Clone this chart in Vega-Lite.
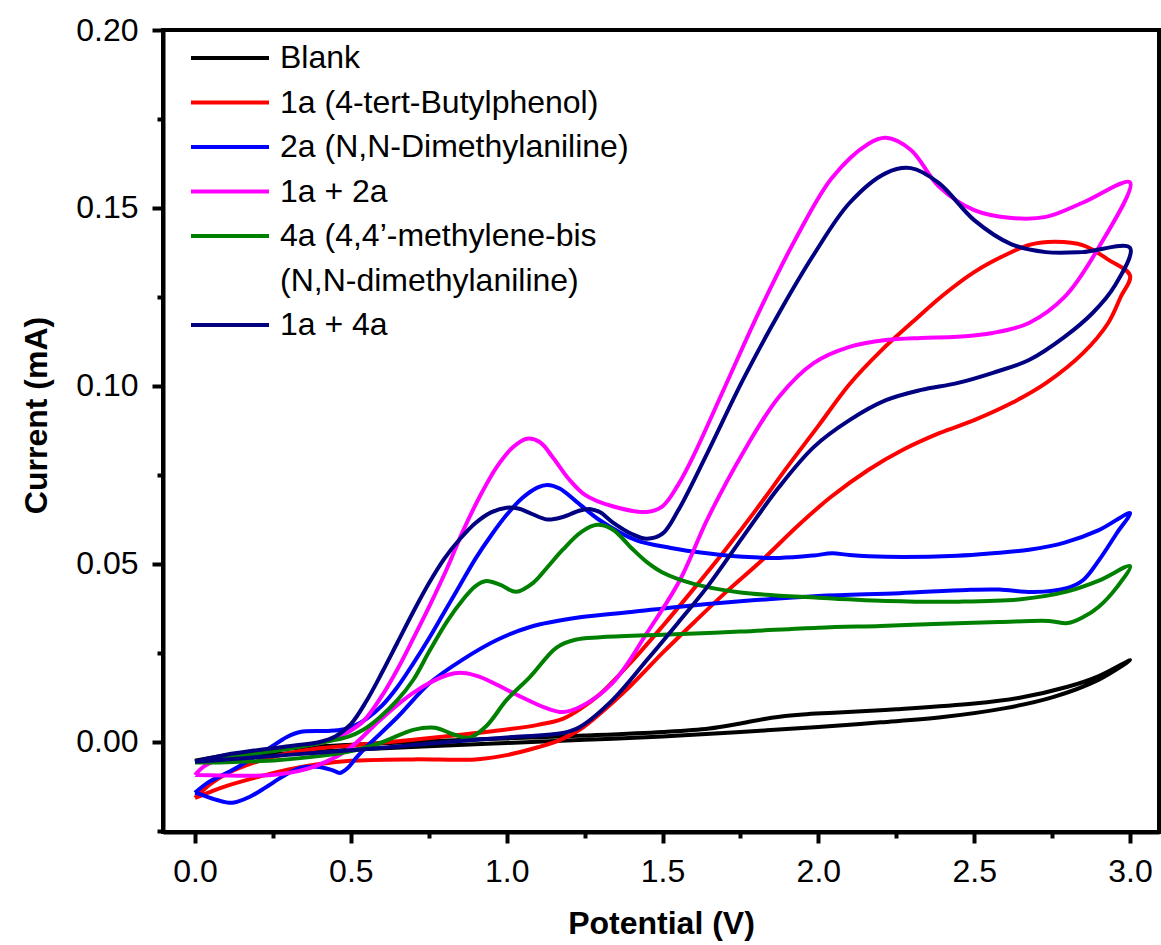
{
  "$schema": "https://vega.github.io/schema/vega-lite/v6.json",
  "width": 996,
  "height": 802,
  "autosize": {"type": "none"},
  "padding": {"left": 163, "top": 30, "right": 2, "bottom": 113},
  "config": {
    "font": "Liberation Sans",
    "view": {"stroke": "black", "strokeWidth": 4}
  },
  "datasets": {
    "cv": [
      {"s":"Blank","o":1,"v":0,"i":-0.0053},{"s":"Blank","o":2,"v":0.1,"i":-0.0037},{"s":"Blank","o":3,"v":0.25,"i":-0.0022},{"s":"Blank","o":4,"v":0.5,"i":-0.0008},{"s":"Blank","o":5,"v":0.75,"i":0.0002},{"s":"Blank","o":6,"v":1.0,"i":0.001},{"s":"Blank","o":7,"v":1.25,"i":0.0018},{"s":"Blank","o":8,"v":1.5,"i":0.0028},{"s":"Blank","o":9,"v":1.65,"i":0.0038},{"s":"Blank","o":10,"v":1.75,"i":0.0052},{"s":"Blank","o":11,"v":1.85,"i":0.0068},{"s":"Blank","o":12,"v":1.95,"i":0.0077},{"s":"Blank","o":13,"v":2.05,"i":0.0082},{"s":"Blank","o":14,"v":2.25,"i":0.0092},{"s":"Blank","o":15,"v":2.5,"i":0.0108},{"s":"Blank","o":16,"v":2.65,"i":0.0125},{"s":"Blank","o":17,"v":2.8,"i":0.0155},{"s":"Blank","o":18,"v":2.9,"i":0.0185},{"s":"Blank","o":19,"v":3.0,"i":0.023},{"s":"Blank","o":20,"v":2.9,"i":0.0175},{"s":"Blank","o":21,"v":2.75,"i":0.0125},{"s":"Blank","o":22,"v":2.6,"i":0.0095},{"s":"Blank","o":23,"v":2.4,"i":0.007},{"s":"Blank","o":24,"v":2.2,"i":0.0055},{"s":"Blank","o":25,"v":2.0,"i":0.0042},{"s":"Blank","o":26,"v":1.75,"i":0.0028},{"s":"Blank","o":27,"v":1.5,"i":0.0015},{"s":"Blank","o":28,"v":1.25,"i":0.0006},{"s":"Blank","o":29,"v":1.0,"i":-0.0003},{"s":"Blank","o":30,"v":0.75,"i":-0.0012},{"s":"Blank","o":31,"v":0.5,"i":-0.0022},{"s":"Blank","o":32,"v":0.25,"i":-0.0035},{"s":"Blank","o":33,"v":0.1,"i":-0.0046},{"s":"Blank","o":34,"v":0,"i":-0.0056},

      {"s":"1a (4-tert-Butylphenol)","o":1,"v":0,"i":-0.0157},{"s":"1a (4-tert-Butylphenol)","o":2,"v":0.05,"i":-0.0118},{"s":"1a (4-tert-Butylphenol)","o":3,"v":0.1,"i":-0.009},{"s":"1a (4-tert-Butylphenol)","o":4,"v":0.2,"i":-0.0055},{"s":"1a (4-tert-Butylphenol)","o":5,"v":0.3,"i":-0.0032},{"s":"1a (4-tert-Butylphenol)","o":6,"v":0.4,"i":-0.0018},{"s":"1a (4-tert-Butylphenol)","o":7,"v":0.5,"i":-0.001},{"s":"1a (4-tert-Butylphenol)","o":8,"v":0.6,"i":-0.0002},{"s":"1a (4-tert-Butylphenol)","o":9,"v":0.7,"i":0.0006},{"s":"1a (4-tert-Butylphenol)","o":10,"v":0.8,"i":0.0015},{"s":"1a (4-tert-Butylphenol)","o":11,"v":0.9,"i":0.0025},{"s":"1a (4-tert-Butylphenol)","o":12,"v":1.0,"i":0.0035},{"s":"1a (4-tert-Butylphenol)","o":13,"v":1.1,"i":0.0048},{"s":"1a (4-tert-Butylphenol)","o":14,"v":1.18,"i":0.0065},{"s":"1a (4-tert-Butylphenol)","o":15,"v":1.24,"i":0.0095},{"s":"1a (4-tert-Butylphenol)","o":16,"v":1.3,"i":0.0135},{"s":"1a (4-tert-Butylphenol)","o":17,"v":1.4,"i":0.0225},{"s":"1a (4-tert-Butylphenol)","o":18,"v":1.5,"i":0.0325},{"s":"1a (4-tert-Butylphenol)","o":19,"v":1.6,"i":0.043},{"s":"1a (4-tert-Butylphenol)","o":20,"v":1.7,"i":0.0538},{"s":"1a (4-tert-Butylphenol)","o":21,"v":1.8,"i":0.0652},{"s":"1a (4-tert-Butylphenol)","o":22,"v":1.9,"i":0.0772},{"s":"1a (4-tert-Butylphenol)","o":23,"v":2.0,"i":0.0888},{"s":"1a (4-tert-Butylphenol)","o":24,"v":2.1,"i":0.1005},{"s":"1a (4-tert-Butylphenol)","o":25,"v":2.2,"i":0.1098},{"s":"1a (4-tert-Butylphenol)","o":26,"v":2.3,"i":0.1178},{"s":"1a (4-tert-Butylphenol)","o":27,"v":2.4,"i":0.1255},{"s":"1a (4-tert-Butylphenol)","o":28,"v":2.5,"i":0.132},{"s":"1a (4-tert-Butylphenol)","o":29,"v":2.6,"i":0.1368},{"s":"1a (4-tert-Butylphenol)","o":30,"v":2.68,"i":0.1397},{"s":"1a (4-tert-Butylphenol)","o":31,"v":2.76,"i":0.1405},{"s":"1a (4-tert-Butylphenol)","o":32,"v":2.85,"i":0.1395},{"s":"1a (4-tert-Butylphenol)","o":33,"v":2.93,"i":0.1355},{"s":"1a (4-tert-Butylphenol)","o":34,"v":3.0,"i":0.131},{"s":"1a (4-tert-Butylphenol)","o":35,"v":2.97,"i":0.125},{"s":"1a (4-tert-Butylphenol)","o":36,"v":2.93,"i":0.1177},{"s":"1a (4-tert-Butylphenol)","o":37,"v":2.85,"i":0.1093},{"s":"1a (4-tert-Butylphenol)","o":38,"v":2.73,"i":0.1008},{"s":"1a (4-tert-Butylphenol)","o":39,"v":2.62,"i":0.0952},{"s":"1a (4-tert-Butylphenol)","o":40,"v":2.5,"i":0.0904},{"s":"1a (4-tert-Butylphenol)","o":41,"v":2.39,"i":0.0868},{"s":"1a (4-tert-Butylphenol)","o":42,"v":2.27,"i":0.082},{"s":"1a (4-tert-Butylphenol)","o":43,"v":2.16,"i":0.0764},{"s":"1a (4-tert-Butylphenol)","o":44,"v":2.04,"i":0.0688},{"s":"1a (4-tert-Butylphenol)","o":45,"v":1.93,"i":0.0604},{"s":"1a (4-tert-Butylphenol)","o":46,"v":1.82,"i":0.0511},{"s":"1a (4-tert-Butylphenol)","o":47,"v":1.7,"i":0.0418},{"s":"1a (4-tert-Butylphenol)","o":48,"v":1.6,"i":0.0335},{"s":"1a (4-tert-Butylphenol)","o":49,"v":1.5,"i":0.025},{"s":"1a (4-tert-Butylphenol)","o":50,"v":1.4,"i":0.016},{"s":"1a (4-tert-Butylphenol)","o":51,"v":1.3,"i":0.008},{"s":"1a (4-tert-Butylphenol)","o":52,"v":1.235,"i":0.0035},{"s":"1a (4-tert-Butylphenol)","o":53,"v":1.17,"i":0.0005},{"s":"1a (4-tert-Butylphenol)","o":54,"v":1.1,"i":-0.0015},{"s":"1a (4-tert-Butylphenol)","o":55,"v":1.0,"i":-0.0037},{"s":"1a (4-tert-Butylphenol)","o":56,"v":0.9,"i":-0.0049},{"s":"1a (4-tert-Butylphenol)","o":57,"v":0.7,"i":-0.0049},{"s":"1a (4-tert-Butylphenol)","o":58,"v":0.5,"i":-0.0053},{"s":"1a (4-tert-Butylphenol)","o":59,"v":0.4,"i":-0.0062},{"s":"1a (4-tert-Butylphenol)","o":60,"v":0.3,"i":-0.0077},{"s":"1a (4-tert-Butylphenol)","o":61,"v":0.2,"i":-0.0099},{"s":"1a (4-tert-Butylphenol)","o":62,"v":0.1,"i":-0.0124},{"s":"1a (4-tert-Butylphenol)","o":63,"v":0.05,"i":-0.014},{"s":"1a (4-tert-Butylphenol)","o":64,"v":0,"i":-0.0157},

      {"s":"2a (N,N-Dimethylaniline)","o":1,"v":0,"i":-0.0143},{"s":"2a (N,N-Dimethylaniline)","o":2,"v":0.04,"i":-0.0115},{"s":"2a (N,N-Dimethylaniline)","o":3,"v":0.12,"i":-0.0079},{"s":"2a (N,N-Dimethylaniline)","o":4,"v":0.23,"i":-0.0022},{"s":"2a (N,N-Dimethylaniline)","o":5,"v":0.295,"i":0.0014},{"s":"2a (N,N-Dimethylaniline)","o":6,"v":0.337,"i":0.0028},{"s":"2a (N,N-Dimethylaniline)","o":7,"v":0.42,"i":0.0031},{"s":"2a (N,N-Dimethylaniline)","o":8,"v":0.475,"i":0.0035},{"s":"2a (N,N-Dimethylaniline)","o":9,"v":0.51,"i":0.0045},{"s":"2a (N,N-Dimethylaniline)","o":10,"v":0.55,"i":0.0065},{"s":"2a (N,N-Dimethylaniline)","o":11,"v":0.6,"i":0.0102},{"s":"2a (N,N-Dimethylaniline)","o":12,"v":0.65,"i":0.0155},{"s":"2a (N,N-Dimethylaniline)","o":13,"v":0.7,"i":0.022},{"s":"2a (N,N-Dimethylaniline)","o":14,"v":0.75,"i":0.029},{"s":"2a (N,N-Dimethylaniline)","o":15,"v":0.8,"i":0.0365},{"s":"2a (N,N-Dimethylaniline)","o":16,"v":0.85,"i":0.044},{"s":"2a (N,N-Dimethylaniline)","o":17,"v":0.9,"i":0.0515},{"s":"2a (N,N-Dimethylaniline)","o":18,"v":0.95,"i":0.058},{"s":"2a (N,N-Dimethylaniline)","o":19,"v":1.0,"i":0.0638},{"s":"2a (N,N-Dimethylaniline)","o":20,"v":1.05,"i":0.0685},{"s":"2a (N,N-Dimethylaniline)","o":21,"v":1.1,"i":0.0715},{"s":"2a (N,N-Dimethylaniline)","o":22,"v":1.13,"i":0.0722},{"s":"2a (N,N-Dimethylaniline)","o":23,"v":1.17,"i":0.0712},{"s":"2a (N,N-Dimethylaniline)","o":24,"v":1.22,"i":0.0678},{"s":"2a (N,N-Dimethylaniline)","o":25,"v":1.3,"i":0.0622},{"s":"2a (N,N-Dimethylaniline)","o":26,"v":1.415,"i":0.0567},{"s":"2a (N,N-Dimethylaniline)","o":27,"v":1.527,"i":0.0545},{"s":"2a (N,N-Dimethylaniline)","o":28,"v":1.643,"i":0.053},{"s":"2a (N,N-Dimethylaniline)","o":29,"v":1.758,"i":0.052},{"s":"2a (N,N-Dimethylaniline)","o":30,"v":1.874,"i":0.0517},{"s":"2a (N,N-Dimethylaniline)","o":31,"v":1.986,"i":0.0524},{"s":"2a (N,N-Dimethylaniline)","o":32,"v":2.044,"i":0.053},{"s":"2a (N,N-Dimethylaniline)","o":33,"v":2.1,"i":0.0525},{"s":"2a (N,N-Dimethylaniline)","o":34,"v":2.217,"i":0.052},{"s":"2a (N,N-Dimethylaniline)","o":35,"v":2.445,"i":0.0523},{"s":"2a (N,N-Dimethylaniline)","o":36,"v":2.56,"i":0.053},{"s":"2a (N,N-Dimethylaniline)","o":37,"v":2.676,"i":0.054},{"s":"2a (N,N-Dimethylaniline)","o":38,"v":2.79,"i":0.056},{"s":"2a (N,N-Dimethylaniline)","o":39,"v":2.9,"i":0.0595},{"s":"2a (N,N-Dimethylaniline)","o":40,"v":3.0,"i":0.0643},{"s":"2a (N,N-Dimethylaniline)","o":41,"v":2.958,"i":0.0587},{"s":"2a (N,N-Dimethylaniline)","o":42,"v":2.9,"i":0.051},{"s":"2a (N,N-Dimethylaniline)","o":43,"v":2.85,"i":0.0455},{"s":"2a (N,N-Dimethylaniline)","o":44,"v":2.8,"i":0.0433},{"s":"2a (N,N-Dimethylaniline)","o":45,"v":2.69,"i":0.0421},{"s":"2a (N,N-Dimethylaniline)","o":46,"v":2.58,"i":0.0428},{"s":"2a (N,N-Dimethylaniline)","o":47,"v":2.477,"i":0.0427},{"s":"2a (N,N-Dimethylaniline)","o":48,"v":2.26,"i":0.0418},{"s":"2a (N,N-Dimethylaniline)","o":49,"v":2.0,"i":0.041},{"s":"2a (N,N-Dimethylaniline)","o":50,"v":1.75,"i":0.0395},{"s":"2a (N,N-Dimethylaniline)","o":51,"v":1.556,"i":0.038},{"s":"2a (N,N-Dimethylaniline)","o":52,"v":1.4,"i":0.0365},{"s":"2a (N,N-Dimethylaniline)","o":53,"v":1.235,"i":0.035},{"s":"2a (N,N-Dimethylaniline)","o":54,"v":1.075,"i":0.0323},{"s":"2a (N,N-Dimethylaniline)","o":55,"v":0.97,"i":0.0287},{"s":"2a (N,N-Dimethylaniline)","o":56,"v":0.86,"i":0.0232},{"s":"2a (N,N-Dimethylaniline)","o":57,"v":0.754,"i":0.0166},{"s":"2a (N,N-Dimethylaniline)","o":58,"v":0.65,"i":0.007},{"s":"2a (N,N-Dimethylaniline)","o":59,"v":0.55,"i":-0.0014},{"s":"2a (N,N-Dimethylaniline)","o":60,"v":0.52,"i":-0.0042},{"s":"2a (N,N-Dimethylaniline)","o":61,"v":0.49,"i":-0.0073},{"s":"2a (N,N-Dimethylaniline)","o":62,"v":0.465,"i":-0.0087},{"s":"2a (N,N-Dimethylaniline)","o":63,"v":0.44,"i":-0.0079},{"s":"2a (N,N-Dimethylaniline)","o":64,"v":0.39,"i":-0.007},{"s":"2a (N,N-Dimethylaniline)","o":65,"v":0.337,"i":-0.0073},{"s":"2a (N,N-Dimethylaniline)","o":66,"v":0.28,"i":-0.0098},{"s":"2a (N,N-Dimethylaniline)","o":67,"v":0.23,"i":-0.0126},{"s":"2a (N,N-Dimethylaniline)","o":68,"v":0.176,"i":-0.0154},{"s":"2a (N,N-Dimethylaniline)","o":69,"v":0.12,"i":-0.0171},{"s":"2a (N,N-Dimethylaniline)","o":70,"v":0.07,"i":-0.0163},{"s":"2a (N,N-Dimethylaniline)","o":71,"v":0.01,"i":-0.0145},{"s":"2a (N,N-Dimethylaniline)","o":72,"v":0,"i":-0.0143},

      {"s":"1a + 2a","o":1,"v":0,"i":-0.0093},{"s":"1a + 2a","o":2,"v":0.03,"i":-0.0068},{"s":"1a + 2a","o":3,"v":0.1,"i":-0.0042},{"s":"1a + 2a","o":4,"v":0.2,"i":-0.0027},{"s":"1a + 2a","o":5,"v":0.3,"i":-0.0016},{"s":"1a + 2a","o":6,"v":0.4,"i":-0.0003},{"s":"1a + 2a","o":7,"v":0.45,"i":0.001},{"s":"1a + 2a","o":8,"v":0.49,"i":0.0027},{"s":"1a + 2a","o":9,"v":0.54,"i":0.0058},{"s":"1a + 2a","o":10,"v":0.6,"i":0.013},{"s":"1a + 2a","o":11,"v":0.65,"i":0.0205},{"s":"1a + 2a","o":12,"v":0.7,"i":0.029},{"s":"1a + 2a","o":13,"v":0.754,"i":0.0385},{"s":"1a + 2a","o":14,"v":0.81,"i":0.049},{"s":"1a + 2a","o":15,"v":0.86,"i":0.0593},{"s":"1a + 2a","o":16,"v":0.92,"i":0.07},{"s":"1a + 2a","o":17,"v":0.97,"i":0.0775},{"s":"1a + 2a","o":18,"v":1.02,"i":0.0828},{"s":"1a + 2a","o":19,"v":1.065,"i":0.0852},{"s":"1a + 2a","o":20,"v":1.107,"i":0.0842},{"s":"1a + 2a","o":21,"v":1.15,"i":0.0797},{"s":"1a + 2a","o":22,"v":1.2,"i":0.0738},{"s":"1a + 2a","o":23,"v":1.25,"i":0.0695},{"s":"1a + 2a","o":24,"v":1.34,"i":0.0662},{"s":"1a + 2a","o":25,"v":1.45,"i":0.0646},{"s":"1a + 2a","o":26,"v":1.5,"i":0.0662},{"s":"1a + 2a","o":27,"v":1.55,"i":0.0722},{"s":"1a + 2a","o":28,"v":1.6,"i":0.0805},{"s":"1a + 2a","o":29,"v":1.7,"i":0.0997},{"s":"1a + 2a","o":30,"v":1.816,"i":0.122},{"s":"1a + 2a","o":31,"v":1.93,"i":0.1418},{"s":"1a + 2a","o":32,"v":2.044,"i":0.1585},{"s":"1a + 2a","o":33,"v":2.16,"i":0.168},{"s":"1a + 2a","o":34,"v":2.217,"i":0.1697},{"s":"1a + 2a","o":35,"v":2.297,"i":0.1663},{"s":"1a + 2a","o":36,"v":2.387,"i":0.156},{"s":"1a + 2a","o":37,"v":2.5,"i":0.1494},{"s":"1a + 2a","o":38,"v":2.62,"i":0.1472},{"s":"1a + 2a","o":39,"v":2.73,"i":0.1475},{"s":"1a + 2a","o":40,"v":2.846,"i":0.1514},{"s":"1a + 2a","o":41,"v":3.0,"i":0.1572},{"s":"1a + 2a","o":42,"v":2.9,"i":0.139},{"s":"1a + 2a","o":43,"v":2.79,"i":0.125},{"s":"1a + 2a","o":44,"v":2.676,"i":0.1177},{"s":"1a + 2a","o":45,"v":2.56,"i":0.1149},{"s":"1a + 2a","o":46,"v":2.445,"i":0.1138},{"s":"1a + 2a","o":47,"v":2.33,"i":0.1135},{"s":"1a + 2a","o":48,"v":2.217,"i":0.1129},{"s":"1a + 2a","o":49,"v":2.1,"i":0.111},{"s":"1a + 2a","o":50,"v":1.986,"i":0.1065},{"s":"1a + 2a","o":51,"v":1.874,"i":0.097},{"s":"1a + 2a","o":52,"v":1.758,"i":0.0812},{"s":"1a + 2a","o":53,"v":1.643,"i":0.0624},{"s":"1a + 2a","o":54,"v":1.556,"i":0.0455},{"s":"1a + 2a","o":55,"v":1.45,"i":0.0306},{"s":"1a + 2a","o":56,"v":1.34,"i":0.0166},{"s":"1a + 2a","o":57,"v":1.235,"i":0.0098},{"s":"1a + 2a","o":58,"v":1.18,"i":0.0084},{"s":"1a + 2a","o":59,"v":1.13,"i":0.0094},{"s":"1a + 2a","o":60,"v":1.02,"i":0.0138},{"s":"1a + 2a","o":61,"v":0.914,"i":0.0183},{"s":"1a + 2a","o":62,"v":0.86,"i":0.0194},{"s":"1a + 2a","o":63,"v":0.81,"i":0.0188},{"s":"1a + 2a","o":64,"v":0.7,"i":0.0138},{"s":"1a + 2a","o":65,"v":0.594,"i":0.0062},{"s":"1a + 2a","o":66,"v":0.49,"i":-0.0022},{"s":"1a + 2a","o":67,"v":0.38,"i":-0.007},{"s":"1a + 2a","o":68,"v":0.27,"i":-0.0091},{"s":"1a + 2a","o":69,"v":0.167,"i":-0.0095},{"s":"1a + 2a","o":70,"v":0.08,"i":-0.0094},{"s":"1a + 2a","o":71,"v":0,"i":-0.0093},

      {"s":"4a (4,4’-methylene-bis","o":1,"v":0,"i":-0.0058},{"s":"4a (4,4’-methylene-bis","o":2,"v":0.1,"i":-0.0045},{"s":"4a (4,4’-methylene-bis","o":3,"v":0.2,"i":-0.0032},{"s":"4a (4,4’-methylene-bis","o":4,"v":0.3,"i":-0.0019},{"s":"4a (4,4’-methylene-bis","o":5,"v":0.4,"i":-0.0003},{"s":"4a (4,4’-methylene-bis","o":6,"v":0.49,"i":0.0014},{"s":"4a (4,4’-methylene-bis","o":7,"v":0.54,"i":0.0034},{"s":"4a (4,4’-methylene-bis","o":8,"v":0.594,"i":0.007},{"s":"4a (4,4’-methylene-bis","o":9,"v":0.65,"i":0.0118},{"s":"4a (4,4’-methylene-bis","o":10,"v":0.7,"i":0.0174},{"s":"4a (4,4’-methylene-bis","o":11,"v":0.754,"i":0.0258},{"s":"4a (4,4’-methylene-bis","o":12,"v":0.81,"i":0.034},{"s":"4a (4,4’-methylene-bis","o":13,"v":0.86,"i":0.04},{"s":"4a (4,4’-methylene-bis","o":14,"v":0.9,"i":0.0438},{"s":"4a (4,4’-methylene-bis","o":15,"v":0.935,"i":0.0452},{"s":"4a (4,4’-methylene-bis","o":16,"v":0.98,"i":0.0441},{"s":"4a (4,4’-methylene-bis","o":17,"v":1.03,"i":0.0422},{"s":"4a (4,4’-methylene-bis","o":18,"v":1.085,"i":0.0447},{"s":"4a (4,4’-methylene-bis","o":19,"v":1.13,"i":0.049},{"s":"4a (4,4’-methylene-bis","o":20,"v":1.18,"i":0.054},{"s":"4a (4,4’-methylene-bis","o":21,"v":1.24,"i":0.059},{"s":"4a (4,4’-methylene-bis","o":22,"v":1.29,"i":0.061},{"s":"4a (4,4’-methylene-bis","o":23,"v":1.34,"i":0.0597},{"s":"4a (4,4’-methylene-bis","o":24,"v":1.4,"i":0.0545},{"s":"4a (4,4’-methylene-bis","o":25,"v":1.45,"i":0.0505},{"s":"4a (4,4’-methylene-bis","o":26,"v":1.5,"i":0.0476},{"s":"4a (4,4’-methylene-bis","o":27,"v":1.6,"i":0.0444},{"s":"4a (4,4’-methylene-bis","o":28,"v":1.75,"i":0.042},{"s":"4a (4,4’-methylene-bis","o":29,"v":2.0,"i":0.0405},{"s":"4a (4,4’-methylene-bis","o":30,"v":2.22,"i":0.0396},{"s":"4a (4,4’-methylene-bis","o":31,"v":2.45,"i":0.0394},{"s":"4a (4,4’-methylene-bis","o":32,"v":2.65,"i":0.0401},{"s":"4a (4,4’-methylene-bis","o":33,"v":2.8,"i":0.0423},{"s":"4a (4,4’-methylene-bis","o":34,"v":2.9,"i":0.0453},{"s":"4a (4,4’-methylene-bis","o":35,"v":3.0,"i":0.0494},{"s":"4a (4,4’-methylene-bis","o":36,"v":2.958,"i":0.0435},{"s":"4a (4,4’-methylene-bis","o":37,"v":2.9,"i":0.038},{"s":"4a (4,4’-methylene-bis","o":38,"v":2.85,"i":0.0351},{"s":"4a (4,4’-methylene-bis","o":39,"v":2.8,"i":0.0334},{"s":"4a (4,4’-methylene-bis","o":40,"v":2.74,"i":0.034},{"s":"4a (4,4’-methylene-bis","o":41,"v":2.58,"i":0.0337},{"s":"4a (4,4’-methylene-bis","o":42,"v":2.37,"i":0.0331},{"s":"4a (4,4’-methylene-bis","o":43,"v":2.2,"i":0.0326},{"s":"4a (4,4’-methylene-bis","o":44,"v":2.0,"i":0.0321},{"s":"4a (4,4’-methylene-bis","o":45,"v":1.75,"i":0.031},{"s":"4a (4,4’-methylene-bis","o":46,"v":1.5,"i":0.0301},{"s":"4a (4,4’-methylene-bis","o":47,"v":1.3,"i":0.0294},{"s":"4a (4,4’-methylene-bis","o":48,"v":1.22,"i":0.0287},{"s":"4a (4,4’-methylene-bis","o":49,"v":1.16,"i":0.0265},{"s":"4a (4,4’-methylene-bis","o":50,"v":1.075,"i":0.0183},{"s":"4a (4,4’-methylene-bis","o":51,"v":1.0,"i":0.0118},{"s":"4a (4,4’-methylene-bis","o":52,"v":0.935,"i":0.0045},{"s":"4a (4,4’-methylene-bis","o":53,"v":0.88,"i":0.0012},{"s":"4a (4,4’-methylene-bis","o":54,"v":0.83,"i":0.0021},{"s":"4a (4,4’-methylene-bis","o":55,"v":0.77,"i":0.004},{"s":"4a (4,4’-methylene-bis","o":56,"v":0.7,"i":0.0034},{"s":"4a (4,4’-methylene-bis","o":57,"v":0.594,"i":-0.0003},{"s":"4a (4,4’-methylene-bis","o":58,"v":0.49,"i":-0.0028},{"s":"4a (4,4’-methylene-bis","o":59,"v":0.27,"i":-0.0051},{"s":"4a (4,4’-methylene-bis","o":60,"v":0.1,"i":-0.0057},{"s":"4a (4,4’-methylene-bis","o":61,"v":0,"i":-0.0058},

      {"s":"1a + 4a","o":1,"v":0,"i":-0.0055},{"s":"1a + 4a","o":2,"v":0.1,"i":-0.0036},{"s":"1a + 4a","o":3,"v":0.2,"i":-0.0023},{"s":"1a + 4a","o":4,"v":0.3,"i":-0.0012},{"s":"1a + 4a","o":5,"v":0.4,"i":0.0},{"s":"1a + 4a","o":6,"v":0.45,"i":0.0015},{"s":"1a + 4a","o":7,"v":0.5,"i":0.005},{"s":"1a + 4a","o":8,"v":0.55,"i":0.0115},{"s":"1a + 4a","o":9,"v":0.6,"i":0.0195},{"s":"1a + 4a","o":10,"v":0.65,"i":0.028},{"s":"1a + 4a","o":11,"v":0.7,"i":0.0365},{"s":"1a + 4a","o":12,"v":0.75,"i":0.0445},{"s":"1a + 4a","o":13,"v":0.8,"i":0.0515},{"s":"1a + 4a","o":14,"v":0.85,"i":0.057},{"s":"1a + 4a","o":15,"v":0.9,"i":0.0615},{"s":"1a + 4a","o":16,"v":0.95,"i":0.0645},{"s":"1a + 4a","o":17,"v":1.0,"i":0.0658},{"s":"1a + 4a","o":18,"v":1.04,"i":0.0655},{"s":"1a + 4a","o":19,"v":1.075,"i":0.0643},{"s":"1a + 4a","o":20,"v":1.13,"i":0.0625},{"s":"1a + 4a","o":21,"v":1.18,"i":0.0632},{"s":"1a + 4a","o":22,"v":1.235,"i":0.065},{"s":"1a + 4a","o":23,"v":1.27,"i":0.0654},{"s":"1a + 4a","o":24,"v":1.3,"i":0.0645},{"s":"1a + 4a","o":25,"v":1.34,"i":0.0617},{"s":"1a + 4a","o":26,"v":1.4,"i":0.0585},{"s":"1a + 4a","o":27,"v":1.45,"i":0.0571},{"s":"1a + 4a","o":28,"v":1.5,"i":0.0585},{"s":"1a + 4a","o":29,"v":1.55,"i":0.065},{"s":"1a + 4a","o":30,"v":1.643,"i":0.081},{"s":"1a + 4a","o":31,"v":1.758,"i":0.1017},{"s":"1a + 4a","o":32,"v":1.874,"i":0.1205},{"s":"1a + 4a","o":33,"v":1.986,"i":0.137},{"s":"1a + 4a","o":34,"v":2.1,"i":0.1514},{"s":"1a + 4a","o":35,"v":2.217,"i":0.1598},{"s":"1a + 4a","o":36,"v":2.297,"i":0.1612},{"s":"1a + 4a","o":37,"v":2.387,"i":0.157},{"s":"1a + 4a","o":38,"v":2.5,"i":0.1466},{"s":"1a + 4a","o":39,"v":2.62,"i":0.1398},{"s":"1a + 4a","o":40,"v":2.73,"i":0.1376},{"s":"1a + 4a","o":41,"v":2.846,"i":0.1376},{"s":"1a + 4a","o":42,"v":3.0,"i":0.1388},{"s":"1a + 4a","o":43,"v":2.95,"i":0.128},{"s":"1a + 4a","o":44,"v":2.88,"i":0.1205},{"s":"1a + 4a","o":45,"v":2.79,"i":0.1138},{"s":"1a + 4a","o":46,"v":2.676,"i":0.1073},{"s":"1a + 4a","o":47,"v":2.56,"i":0.1037},{"s":"1a + 4a","o":48,"v":2.445,"i":0.1008},{"s":"1a + 4a","o":49,"v":2.33,"i":0.0989},{"s":"1a + 4a","o":50,"v":2.217,"i":0.096},{"s":"1a + 4a","o":51,"v":2.1,"i":0.0904},{"s":"1a + 4a","o":52,"v":1.986,"i":0.0829},{"s":"1a + 4a","o":53,"v":1.874,"i":0.0716},{"s":"1a + 4a","o":54,"v":1.758,"i":0.0576},{"s":"1a + 4a","o":55,"v":1.643,"i":0.0435},{"s":"1a + 4a","o":56,"v":1.55,"i":0.0335},{"s":"1a + 4a","o":57,"v":1.45,"i":0.023},{"s":"1a + 4a","o":58,"v":1.34,"i":0.0118},{"s":"1a + 4a","o":59,"v":1.235,"i":0.0042},{"s":"1a + 4a","o":60,"v":1.18,"i":0.0025},{"s":"1a + 4a","o":61,"v":1.02,"i":0.0014},{"s":"1a + 4a","o":62,"v":0.81,"i":0.0},{"s":"1a + 4a","o":63,"v":0.594,"i":-0.0017},{"s":"1a + 4a","o":64,"v":0.38,"i":-0.0031},{"s":"1a + 4a","o":65,"v":0.167,"i":-0.0045},{"s":"1a + 4a","o":66,"v":0,"i":-0.0056}
    ]
  },
  "data": {"name": "cv"},
  "mark": {"type": "line", "strokeWidth": 4, "interpolate": "catmull-rom", "strokeJoin": "round"},
  "encoding": {
    "x": {
      "field": "v", "type": "quantitative",
      "scale": {"domain": [-0.1027, 3.093], "nice": false, "zero": false},
      "axis": {
        "title": "Potential (V)",
        "titleFont": "Liberation Sans", "titleFontSize": 32, "titleFontWeight": "bold", "titleColor": "black",
        "titleY": 101, "titleBaseline": "alphabetic",
        "values": [0, 0.25, 0.5, 0.75, 1, 1.25, 1.5, 1.75, 2, 2.25, 2.5, 2.75, 3],
        "labelExpr": "abs(round(datum.value*2) - datum.value*2) > 0.1 ? '' : format(datum.value, '.1f')",
        "labelFont": "Liberation Sans", "labelFontSize": 32, "labelColor": "black", "labelPadding": 13,
        "labelFlush": false, "labelOverlap": false,
        "grid": false, "domainColor": "black", "domainWidth": 4,
        "tickColor": "black", "tickWidth": 4,
        "tickSize": {"condition": {"test": "abs(round(datum.value*2) - datum.value*2) > 0.1", "value": 6}, "value": 11}
      }
    },
    "y": {
      "field": "i", "type": "quantitative",
      "scale": {"domain": [-0.0253, 0.2], "nice": false, "zero": false},
      "axis": {
        "title": "Current (mA)",
        "titleFont": "Liberation Sans", "titleFontSize": 32, "titleFontWeight": "bold", "titleColor": "black",
        "titleX": -117, "titleY": 385, "titleBaseline": "alphabetic", "titleAngle": -90, "titleAlign": "center",
        "values": [-0.025, 0, 0.025, 0.05, 0.075, 0.1, 0.125, 0.15, 0.175, 0.2],
        "labelExpr": "abs(round(datum.value*20) - datum.value*20) > 0.1 ? '' : format(datum.value, '.2f')",
        "labelFont": "Liberation Sans", "labelFontSize": 32, "labelColor": "black", "labelPadding": 14,
        "labelFlush": false, "labelOverlap": false,
        "grid": false, "domainColor": "black", "domainWidth": 4,
        "tickColor": "black", "tickWidth": 4,
        "tickSize": {"condition": {"test": "abs(round(datum.value*20) - datum.value*20) > 0.1", "value": 6}, "value": 11}
      }
    },
    "color": {
      "field": "s", "type": "nominal",
      "scale": {
        "domain": ["Blank", "1a (4-tert-Butylphenol)", "2a (N,N-Dimethylaniline)", "1a + 2a", "4a (4,4’-methylene-bis", "(N,N-dimethylaniline)", "1a + 4a"],
        "range": ["#000000", "#ff0000", "#0000ff", "#ff00ff", "#008000", "rgba(0,0,0,0)", "#000080"]
      },
      "legend": {
        "title": null, "orient": "none", "legendX": 51, "legendY": 12, "padding": 0,
        "symbolType": "M-3,0H3", "symbolSize": 676, "symbolStrokeWidth": 4,
        "labelFont": "Liberation Sans", "labelFontSize": 32, "labelColor": "black", "labelLimit": 900, "labelOffset": 34,
        "rowPadding": 12.5
      }
    },
    "order": {"field": "o", "type": "quantitative"}
  }
}
